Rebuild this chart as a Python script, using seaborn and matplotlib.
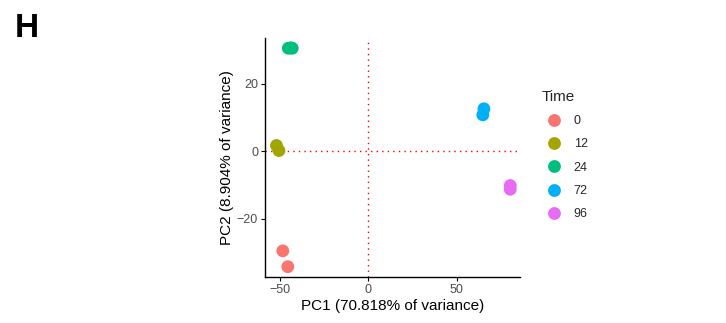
"""PCA plot of samples coloured by time point"""

import pandas as pd
import matplotlib
matplotlib.use("Agg")
import matplotlib.pyplot as plt
import seaborn as sns

# values
time = ["0", "0", "12", "12", "24", "24", "24", "72", "72", "96", "96"]
pc1 = [-48.4, -45.6, -52.0, -50.6, -45.3, -44.0, -43.1, 65.3, 64.7, 80.2, 80.2]
pc2 = [-29.6, -34.3, 1.7, 0.2, 30.6, 30.7, 30.6, 12.6, 10.8, -10.2, -11.3]
time_levels = ["0", "12", "24", "72", "96"]
palette = ["#F8766D", "#A3A500", "#00BF7D", "#00B0F6", "#E76BF3"]

df = pd.DataFrame({"PC1": pc1, "PC2": pc2, "Time": time})

sns.set_style("white")
plt.rcParams["font.family"] = ["Liberation Sans", "DejaVu Sans"]

fig = plt.figure(figsize=(7.26, 3.23), dpi=100)
ax = fig.add_axes([0.365, 0.142, 0.351, 0.74])

# dotted reference lines through the origin
ax.axhline(0, color="red", linestyle=(0, (1, 3)), linewidth=1.0, zorder=1)
ax.axvline(0, color="red", linestyle=(0, (1, 3)), linewidth=1.0, zorder=1)

sns.scatterplot(
    data=df, x="PC1", y="PC2", hue="Time", hue_order=time_levels,
    palette=palette, s=85, linewidth=0, ax=ax, zorder=3,
)

ax.set_xlim(-58.5, 85.6)
ax.set_ylim(-37.4, 33.6)
ax.set_xticks([-50, 0, 50])
ax.set_yticks([-20, 0, 20])
ax.set_xlabel("PC1 (70.818% of variance)", fontsize=11, color="black", labelpad=2)
ax.set_ylabel("PC2 (8.904% of variance)", fontsize=11, color="black", labelpad=2)
ax.tick_params(axis="both", labelsize=9, labelcolor="#4D4D4D", length=3,
               width=0.8, color="black", direction="out", bottom=True, left=True, pad=2)
for side in ["top", "right"]:
    ax.spines[side].set_visible(False)
for side in ["left", "bottom"]:
    ax.spines[side].set_color("black")
    ax.spines[side].set_linewidth(1.0)

leg = ax.legend(title="Time", loc="upper left", bbox_to_anchor=(1.04, 0.83),
                frameon=False, fontsize=9, title_fontsize=11, markerscale=1.0,
                labelspacing=0.9, handletextpad=0.6, alignment="left")

fig.text(0.02, 0.885, "H", fontsize=24, fontweight="bold", color="black")

fig.savefig("out.png", dpi=100)
